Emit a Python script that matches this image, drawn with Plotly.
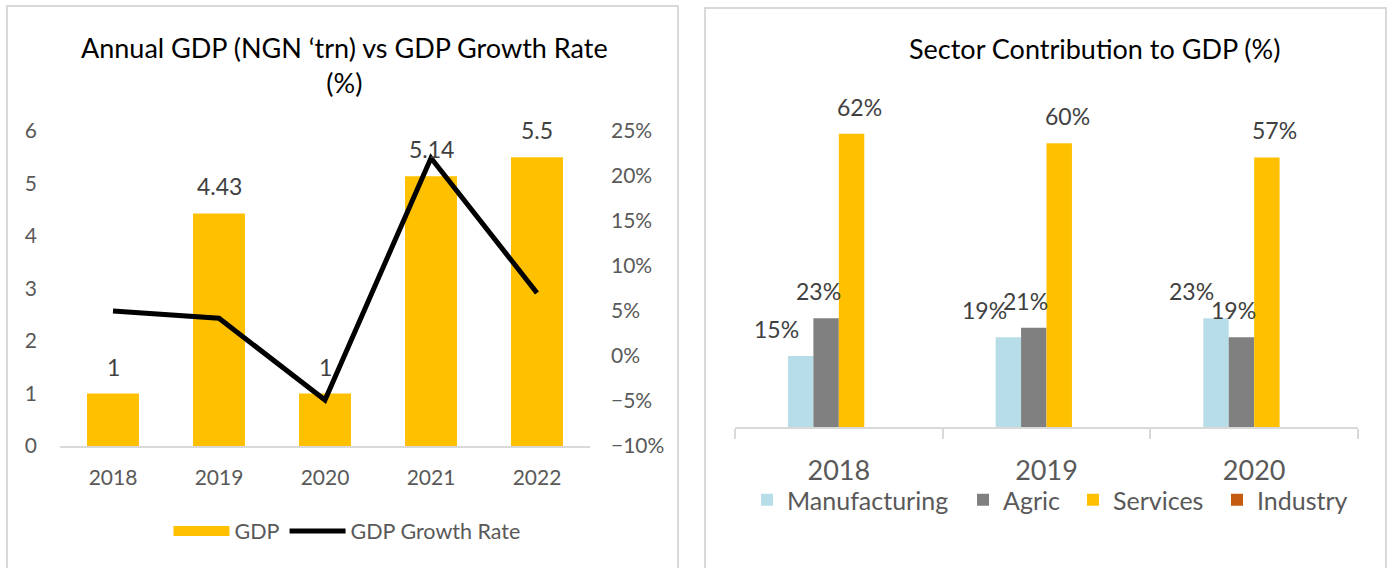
import plotly.graph_objects as go

# ---- Annual GDP vs growth rate ----
years = ["2018", "2019", "2020", "2021", "2022"]
gdp_trn = [1, 4.43, 1, 5.14, 5.5]
gdp_growth = [0.050, 0.042, -0.049, 0.220, 0.070]

# ---- Sector contribution ----
sector_years = ["2018", "2019", "2020"]
manufacturing = [0.15, 0.19, 0.23]
agric = [0.23, 0.21, 0.19]
services = [0.62, 0.60, 0.57]
industry = [None, None, None]

W, H = 1389, 568
FONT = "Lato"
GOLD = "#FFC000"
TXT = "#404040"
TICK = "#595959"
BORDER = "#D9D9D9"


def px_x(v):
    return v / W


def px_y(v):
    return 1 - v / H


fig = go.Figure()

# left chart: GDP bars + growth line on a secondary axis
fig.add_trace(go.Bar(
    x=years, y=gdp_trn, name="GDP", marker_color=GOLD,
    xaxis="x", yaxis="y", showlegend=False,
))
# wide flat key for the GDP bars in the legend
fig.add_trace(go.Scatter(
    x=[None], y=[None], name="GDP", mode="lines",
    line=dict(color=GOLD, width=14), xaxis="x", yaxis="y",
    legend="legend", hoverinfo="skip",
))
fig.add_trace(go.Scatter(
    x=years, y=gdp_growth, name="GDP Growth Rate", mode="lines",
    line=dict(color="black", width=5), xaxis="x", yaxis="y2",
    legend="legend",
))

# right chart: one legend box per sector so the keys can be spaced freely
sector_series = [
    ("Manufacturing", manufacturing, "#B7DDE8", "legend2", 747),
    ("Agric", agric, "#808080", "legend3", 963),
    ("Services", services, GOLD, "legend4", 1073),
    ("Industry", industry, "#C55A11", "legend5", 1217),
]
for name, vals, col, leg, _ in sector_series:
    fig.add_trace(go.Bar(
        x=sector_years, y=vals, name=name, marker_color=col,
        xaxis="x3", yaxis="y3", legend=leg,
    ))

annotations = []
# value labels above GDP bars
for i, v in enumerate(gdp_trn):
    annotations.append(dict(
        x=i, y=v, xref="x", yref="y", text=f"{v:g}", showarrow=False,
        xanchor="center", yanchor="bottom", yshift=11,
        font=dict(family=FONT, size=23, color=TXT),
    ))

# value labels above sector bars (grouped offsets)
bargap3 = 0.2
n_series = len(sector_series)
slot = (1 - bargap3) / n_series
for k, (name, vals, *_rest) in enumerate(sector_series):
    off = -0.5 * (1 - bargap3) + (k + 0.5) * slot
    for i, v in enumerate(vals):
        if v is None:
            continue
        annotations.append(dict(
            x=i + off, y=v, xref="x3", yref="y3", text=f"{v:.0%}",
            showarrow=False, xanchor="center", yanchor="bottom", yshift=11,
            font=dict(family=FONT, size=23, color=TXT),
        ))

# titles
annotations.append(dict(
    x=px_x(344), y=px_y(65), xref="paper", yref="paper",
    xanchor="center", yanchor="middle",
    text="Annual GDP (NGN ‘trn) vs GDP Growth Rate<br>(%)",
    showarrow=False, font=dict(family=FONT, size=27, color="black"),
    align="center",
))
annotations.append(dict(
    x=px_x(1094), y=px_y(48), xref="paper", yref="paper",
    xanchor="center", yanchor="middle",
    text="Sector Contribution to GDP (%)",
    showarrow=False, font=dict(family=FONT, size=27, color="black"),
))

# panel frames
shapes = [
    dict(type="rect", xref="paper", yref="paper",
         x0=px_x(7), x1=px_x(678), y0=-0.05, y1=px_y(6),
         line=dict(color=BORDER, width=2)),
    dict(type="rect", xref="paper", yref="paper",
         x0=px_x(705), x1=px_x(1386), y0=-0.05, y1=px_y(8),
         line=dict(color=BORDER, width=2)),
]

sector_legends = {
    leg: dict(
        orientation="h", x=px_x(lx), y=px_y(500),
        xanchor="left", yanchor="middle",
        font=dict(family=FONT, size=25, color=TICK),
        bgcolor="rgba(0,0,0,0)",
    )
    for _, _, _, leg, lx in sector_series
}

fig.update_layout(
    template="none",
    width=W, height=H,
    margin=dict(l=0, r=0, t=0, b=0, autoexpand=False),
    paper_bgcolor="white", plot_bgcolor="white",
    font=dict(family=FONT, color=TICK),
    barmode="group",
    bargap=0.51,
    xaxis=dict(
        type="category", range=[-0.5, len(years) - 0.5],
        domain=[px_x(60), px_x(590)], anchor="y", automargin=False,
        showline=True, linecolor=BORDER, linewidth=1.5,
        ticks="", showgrid=False, zeroline=False,
        tickfont=dict(family=FONT, size=21, color=TICK),
        ticklabelstandoff=12,
    ),
    yaxis=dict(
        domain=[px_y(446), px_y(131)], anchor="x", automargin=False,
        range=[0, 6], dtick=1, showgrid=False, zeroline=False,
        showline=False, ticks="",
        tickfont=dict(family=FONT, size=21, color=TICK),
        ticklabelstandoff=22,
    ),
    yaxis2=dict(
        domain=[px_y(446), px_y(131)], anchor="x", overlaying="y",
        automargin=False,
        side="right", range=[-0.10, 0.25], dtick=0.05, tickformat=".0%",
        showgrid=False, zeroline=False, showline=False, ticks="",
        tickfont=dict(family=FONT, size=21, color=TICK),
        ticklabelstandoff=20,
    ),
    xaxis3=dict(
        type="category", range=[-0.5, len(sector_years) - 0.5],
        domain=[px_x(735), px_x(1358)], anchor="y3", automargin=False,
        showline=True, linecolor=BORDER, linewidth=2,
        ticks="outside", tickson="boundaries", ticklen=10,
        tickcolor=BORDER, tickwidth=2, showgrid=False, zeroline=False,
        tickfont=dict(family=FONT, size=27, color=TICK),
        ticklabelstandoff=19,
    ),
    yaxis3=dict(
        domain=[px_y(427), px_y(96)], anchor="x3", automargin=False,
        range=[0, 0.70], visible=False,
    ),
    legend=dict(
        orientation="h", x=px_x(347), y=px_y(531),
        xanchor="center", yanchor="middle",
        font=dict(family=FONT, size=21.5, color=TICK),
        bgcolor="rgba(0,0,0,0)", itemwidth=56,
    ),
    annotations=annotations,
    shapes=shapes,
    **sector_legends,
)

fig.write_html("out.html")
